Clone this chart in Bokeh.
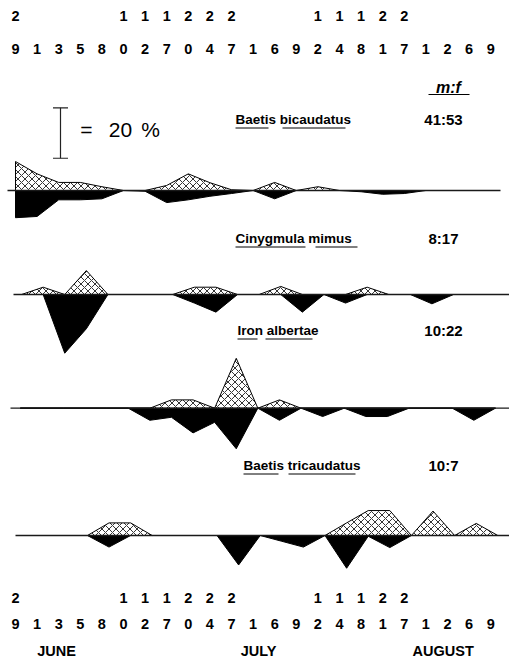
from bokeh.plotting import figure
from bokeh.models import Range1d
from bokeh.core.properties import value
from bokeh.embed import file_html
from bokeh.resources import INLINE

# Collection dates (day of month), June through August
sample_days = [29, 1, 3, 5, 8, 10, 12, 17, 20, 24, 27, 1, 6, 9, 12, 14, 18, 21, 27, 1, 2, 6, 9]
months = ["JUNE", "JULY", "AUGUST"]

species = ["Baetis bicaudatus", "Cinygmula mimus", "Iron albertae", "Baetis tricaudatus"]
sex_ratio = ["41:53", "8:17", "10:22", "10:7"]

# Percent of the season's catch taken on each date (males above, females below)
bicaudatus_male = [11.5, 6.6, 3.2, 3.2, 1.5, 0, 0, 2.0, 6.6, 3.1, 0.3, 0, 3.2, 0, 1.5,
                   0, 0, 0, 0, 0, 0, 0, 0]
bicaudatus_female = [10.8, 10.3, 3.7, 3.7, 3.3, 0, 0.3, 4.8, 3.7, 2.3, 1.2, 0, 3.3, 0, 0,
                     0, 0.5, 1.5, 1.2, 0, 0, 0, 0]
mimus_male = [0, 2.9, 0, 9.5, 0, 0, 0, 0, 2.9, 2.9, 0, 0, 3.2, 0, 0,
              0, 2.9, 0, 0, 0, 0, 0, 0]
mimus_female = [0, 0, 23.3, 13.6, 0, 0, 0, 0, 3.4, 7.0, 0, 0, 0, 7.0, 0,
                3.4, 0, 0, 0, 3.7, 0, 0, 0]
albertae_male = [0, 0, 0, 0, 0, 0, 0, 3.3, 3.3, 0, 19.8, 0, 3.3, 0, 0,
                 0, 0, 0, 0, 0, 0, 0, 0]
albertae_female = [0, 0, 0, 0, 0, 0, 4.8, 3.6, 9.8, 5.6, 16.1, 0, 4.8, 0, 3.3,
                   0, 3.3, 3.3, 0, 0, 0, 4.8, 0]
tricaudatus_male = [0, 0, 0, 0, 5.0, 5.0, 0, 0, 0, 0, 0, 0, 0, 0, 0,
                    5.0, 9.9, 9.9, 0, 9.7, 0, 4.8, 0]
tricaudatus_female = [0, 0, 0, 0, 4.6, 0, 0, 0, 0, 0, 11.7, 0, 2.3, 4.6, 0,
                      13.0, 0.3, 4.8, 0, 0, 0, 0, 0]

males = [bicaudatus_male, mimus_male, albertae_male, tricaudatus_male]
females = [bicaudatus_female, mimus_female, albertae_female, tricaudatus_female]

# ---- layout ---------------------------------------------------------------
W, H = 509, 659
X0, PX_PER_DATE = 15.0, 21.6          # pixel column of first date, spacing
PX_PER_PCT = 2.52                      # vertical scale, pixels per percent
baselines = [190, 294, 407.7, 535]     # baseline row of each panel
panel_shift = [0.0, 0.28, 0.22, 0.33]  # small horizontal shift of each panel
baseline_span = [(7, 500), (13, 509), (10, 509), (15, 509)]
title_pos = [(235, 119), (235, 238), (237, 330), (243, 465)]
underlines = [[(235, 268), (282, 345)], [(235, 305), (315, 357)],
              [(237, 257), (265, 312)], [(243, 278), (288, 355)]]
underline_dy = 8.5
ratio_x = 443
month_x = [1.9, 11.25, 19.8]

FONT = value("Liberation Sans")

p = figure(width=W, height=H,
           x_range=Range1d(-X0 / PX_PER_DATE, (W - X0) / PX_PER_DATE),
           y_range=Range1d(H, 0),
           x_axis_location=None, y_axis_location=None,
           output_backend="svg", toolbar_location=None, min_border=0)
p.grid.visible = False
p.outline_line_color = None
p.background_fill_color = "white"
p.border_fill_color = "white"

p.extra_x_ranges = {"px": Range1d(0, W)}
p.extra_y_ranges = {f"panel{k}": Range1d(-(H - b) / PX_PER_PCT, b / PX_PER_PCT)
                    for k, b in enumerate(baselines)}

n = len(sample_days)
for k in range(4):
    yr = f"panel{k}"
    xs = [i + panel_shift[k] for i in range(n)]
    poly_x = xs + [xs[-1], xs[0]]

    # females: solid black below the line
    p.patch(x=poly_x, y=[-v for v in females[k]] + [0, 0], y_range_name=yr,
            fill_color="black", line_color="black", line_width=1)
    # males: cross-hatched above the line
    p.patch(x=poly_x, y=list(males[k]) + [0, 0], y_range_name=yr,
            fill_color="white", hatch_pattern="diagonal_cross", hatch_color="black",
            hatch_scale=7, hatch_weight=0.8,
            line_color="black", line_width=1, line_join="miter")

    x0, x1 = baseline_span[k]
    p.segment(x0=[x0], x1=[x1], y0=[0], y1=[0], x_range_name="px", y_range_name=yr,
              line_color="#1a1a1a", line_width=1.3)

    tx, ty = title_pos[k]
    p.text(x=[tx], y=[ty], text=[species[k]], x_range_name="px",
           text_font=FONT, text_font_style="bold", text_font_size="13.5px",
           text_align="left", text_baseline="middle", text_color="black")
    segs = underlines[k]
    p.segment(x0=[a for a, b in segs], x1=[b for a, b in segs],
              y0=[ty + underline_dy] * len(segs), y1=[ty + underline_dy] * len(segs),
              x_range_name="px", line_color="black", line_width=1)
    p.text(x=[ratio_x], y=[ty], text=[sex_ratio[k]], x_range_name="px",
           text_font=FONT, text_font_style="bold", text_font_size="15px",
           text_align="center", text_baseline="middle", text_color="black")

# m:f heading
p.text(x=[448], y=[87], text=["m:f"], x_range_name="px",
       text_font=FONT, text_font_style="bold italic", text_font_size="16px",
       text_align="center", text_baseline="middle", text_color="black")
p.segment(x0=[428], x1=[469], y0=[94], y1=[94], x_range_name="px",
          line_color="black", line_width=1)

# 20 % scale bar, drawn in the first panel's percent units
bar_x = (60 - X0) / PX_PER_DATE
cap = 7.5 / PX_PER_DATE
bar_lo, bar_hi = 12.8, 32.8
p.segment(x0=[bar_x, bar_x - cap, bar_x - cap], x1=[bar_x, bar_x + cap, bar_x + cap],
          y0=[bar_lo, bar_lo, bar_hi], y1=[bar_hi, bar_lo, bar_hi],
          y_range_name="panel0", line_color="#222", line_width=1.2)
p.text(x=[86, 120, 150], y=[129, 129, 129], text=["=", "20", "%"], x_range_name="px",
       text_font=FONT, text_font_size="21px",
       text_align="center", text_baseline="middle", text_color="black")

# date labels, top and bottom
tens = [str(d // 10) if d >= 10 else "" for d in sample_days]
units = [str(d % 10) for d in sample_days]
idx = list(range(n))
for ty_tens, ty_units in [(15, 48), (597, 623)]:
    p.text(x=idx, y=[ty_tens] * n, text=tens, text_font=FONT, text_font_style="bold",
           text_font_size="14.5px", text_align="center", text_baseline="middle",
           text_color="black")
    p.text(x=idx, y=[ty_units] * n, text=units, text_font=FONT, text_font_style="bold",
           text_font_size="14.5px", text_align="center", text_baseline="middle",
           text_color="black")

p.text(x=month_x, y=[650] * 3, text=months, text_font=FONT, text_font_style="bold",
       text_font_size="14.5px", text_align="center", text_baseline="middle",
       text_color="black")

open("out.html", "w").write(file_html(p, INLINE))
